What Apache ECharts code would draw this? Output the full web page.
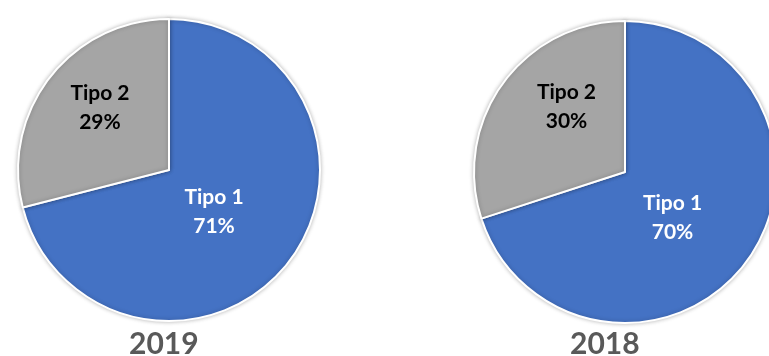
<!DOCTYPE html>
<html>
<head>
<meta charset="utf-8">
<script src="https://cdn.jsdelivr.net/npm/echarts@6/dist/echarts.min.js"></script>
<style>
  html, body { margin: 0; padding: 0; background: #fff; }
  #main { width: 769px; height: 356px; }
</style>
</head>
<body>
<div id="main"></div>
<script>
const categories = ['Tipo 1', 'Tipo 2']
const years = ['2019', '2018']
const values2019 = [71, 29]
const values2018 = [70, 30]

const colors = ['#4472C4', '#A5A5A5']
const labelColors = ['#ffffff', '#000000']
const font = 'Lato, "Open Sans", sans-serif'

const chart = echarts.init(document.getElementById('main'))

// nudges so labels sit where Excel's "best fit" put them
function pieSeries(values, center, offsets) {
  return {
    type: 'pie',
    center,
    radius: 151,
    startAngle: 90,
    clockwise: true,
    animation: false,
    silent: true,
    itemStyle: {
      borderColor: '#fff',
      borderWidth: 2,
      shadowBlur: 4,
      shadowColor: 'rgba(0,0,0,0.25)'
    },
    label: {
      show: true,
      position: 'inside',
      formatter: '{b}\n{c}%',
      fontFamily: font,
      fontWeight: 'bold',
      fontSize: 21,
      lineHeight: 29
    },
    labelLine: { show: false },
    data: categories.map((name, i) => ({
      name,
      value: values[i],
      itemStyle: { color: colors[i] },
      label: { color: labelColors[i], offset: offsets[i] }
    }))
  }
}

chart.setOption({
  backgroundColor: '#fff',
  title: [
    { text: years[0], left: 129 },
    { text: years[1], left: 570 }
  ].map(t => ({
    text: t.text,
    left: t.left,
    top: 329,
    padding: 0,
    textStyle: { fontFamily: font, fontWeight: 'bold', fontSize: 30, color: '#595959' }
  })),
  series: [
    pieSeries(values2019, [169, 170], [[-17, -6], [-7, -14]]),
    pieSeries(values2018, [625, 172], [[-16, 0], [5, -19]])
  ]
})
</script>
</body>
</html>
